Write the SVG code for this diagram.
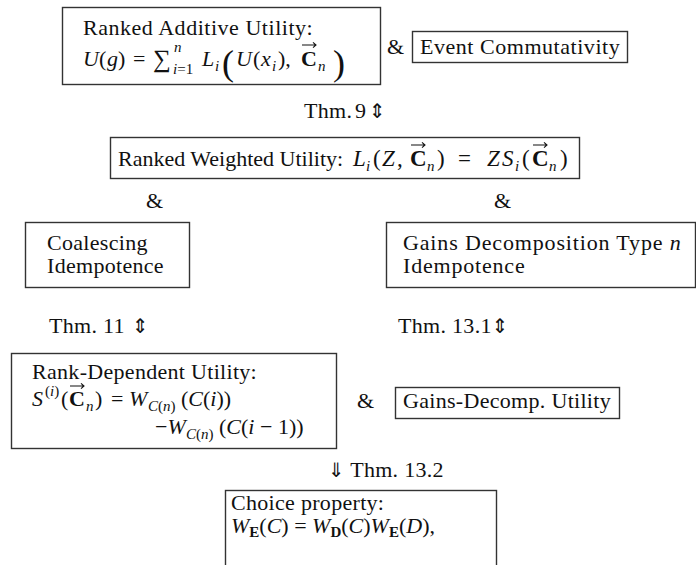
<svg xmlns="http://www.w3.org/2000/svg" width="696" height="565" viewBox="0 0 696 565">
<style>
text{font-family:"Liberation Serif","Times New Roman",serif;font-size:22px;fill:#111;letter-spacing:0.3px;}
.m{letter-spacing:0;}
.mm{font-size:23px;letter-spacing:0;}
.i{font-style:italic;}
.b{font-weight:bold;}
.s{font-size:15px;letter-spacing:0;}
.ar{font-family:"DejaVu Sans",sans-serif;font-size:20px;letter-spacing:0;}
.big{font-size:36px;letter-spacing:0;}
.box{fill:none;stroke:#333;stroke-width:1.4;}
.vec{fill:none;stroke:#111;stroke-width:1.1;}
</style>
<defs>
<path id="vec" class="vec" d="M0 0H14M11 -2.6L14 0L11 2.6"/>
</defs>
<rect width="696" height="565" fill="#fff"/>

<g id="n-rau">
<rect class="box" x="62.5" y="7.5" width="318" height="77"/>
<text x="83" y="35" textLength="230">Ranked Additive Utility:</text>
<text class="m i" x="83" y="66">U</text>
<text class="m" x="99" y="66">(</text>
<text class="m i" x="107" y="66">g</text>
<text class="m" x="118" y="66">)</text>
<text class="m" x="133" y="66">=</text>
<text class="m" x="153" y="67" style="font-size:25px">∑</text>
<text class="s i" x="174" y="52">n</text>
<text class="s" x="173" y="74"><tspan class="i">i</tspan>=1</text>
<text class="m i" x="202" y="66">L</text>
<text class="s i" x="215" y="71">i</text>
<text class="big" x="222" y="75">(</text>
<text class="m i" x="236" y="66">U</text>
<text class="m" x="253" y="66">(</text>
<text class="m i" x="261" y="66">x</text>
<text class="s i" x="272" y="71">i</text>
<text class="m" x="278" y="66">),</text>
<text class="m b" x="301" y="66">C</text>
<use href="#vec" x="302" y="45"/>
<text class="s i" x="318" y="71">n</text>
<text class="big" x="333" y="75">)</text>
</g>

<text id="amp1" x="387" y="54">&amp;</text>

<g id="n-ec">
<rect class="box" x="412.5" y="31.5" width="215" height="31"/>
<text x="420" y="54" textLength="200">Event Commutativity</text>
</g>

<g id="n-rwu">
<rect class="box" x="110.5" y="137.5" width="469" height="41"/>
<text x="118" y="166" class="m">Ranked Weighted Utility:</text>
<text class="mm i" x="353" y="166">L</text>
<text class="s i" x="366" y="171">i</text>
<text class="mm" x="373" y="166">(</text>
<text class="mm i" x="382" y="166">Z</text>
<text class="mm" x="397" y="166">,</text>
<text class="mm b" x="410" y="166">C</text>
<use href="#vec" x="411" y="145"/>
<text class="s i" x="427" y="171">n</text>
<text class="mm" x="437" y="166">)</text>
<text class="mm" x="458" y="166">=</text>
<text class="mm i" x="487" y="166">Z</text>
<text class="mm i" x="502" y="166">S</text>
<text class="s i" x="515" y="171">i</text>
<text class="mm" x="522" y="166">(</text>
<text class="mm b" x="532" y="166">C</text>
<use href="#vec" x="533" y="145"/>
<text class="s i" x="549" y="171">n</text>
<text class="mm" x="560" y="166">)</text>
</g>

<text id="amp2" x="146" y="208">&amp;</text>
<text id="amp3" x="494" y="208">&amp;</text>

<g id="n-ci">
<rect class="box" x="25.5" y="222.5" width="164" height="65"/>
<text x="47" y="250">Coalescing</text>
<text x="47" y="273">Idempotence</text>
</g>

<g id="n-gd">
<rect class="box" x="386.5" y="222.5" width="309" height="65"/>
<text x="403" y="250" textLength="278">Gains Decomposition Type <tspan class="i">n</tspan></text>
<text x="403" y="273" textLength="122">Idempotence</text>
</g>

<g id="n-rdu">
<rect class="box" x="11.5" y="353.5" width="325" height="95"/>
<text x="32" y="379">Rank-Dependent Utility:</text>
<text class="m i" x="32" y="406">S</text>
<text class="s" x="45" y="396">(<tspan class="i">i</tspan>)</text>
<text class="m" x="61" y="406">(</text>
<text class="m b" x="69" y="406">C</text>
<use href="#vec" x="70" y="386"/>
<text class="s i" x="86" y="411">n</text>
<text class="m" x="95" y="406">)</text>
<text class="m" x="111" y="406">=</text>
<text class="m i" x="129" y="406">W</text>
<text class="s" x="148" y="411"><tspan class="i">C</tspan>(<tspan class="i">n</tspan>)</text>
<text class="m" x="181" y="406">(<tspan class="i">C</tspan>(<tspan class="i">i</tspan>))</text>
<text class="m" x="155" y="434">−<tspan class="i">W</tspan></text>
<text class="s" x="186" y="439"><tspan class="i">C</tspan>(<tspan class="i">n</tspan>)</text>
<text class="m" x="219" y="434">(<tspan class="i">C</tspan>(<tspan class="i">i</tspan> − 1))</text>
</g>

<text id="amp4" x="357" y="408">&amp;</text>

<g id="n-gdu">
<rect class="box" x="395.5" y="387.5" width="224" height="31"/>
<text x="403" y="408" textLength="208">Gains-Decomp. Utility</text>
</g>

<g id="n-cp">
<rect class="box" x="225.5" y="490.5" width="271" height="80"/>
<text x="231" y="510">Choice property:</text>
<text class="m" y="533"><tspan x="231" class="i">W</tspan><tspan class="s b" dy="4">E</tspan><tspan dy="-4">(</tspan><tspan class="i">C</tspan>) = <tspan class="i">W</tspan><tspan class="s b" dy="4">D</tspan><tspan dy="-4">(</tspan><tspan class="i">C</tspan>)<tspan class="i">W</tspan><tspan class="s b" dy="4">E</tspan><tspan dy="-4">(</tspan><tspan class="i">D</tspan>),</text>
</g>

<g id="connectors">
<text x="304" y="118">Thm.</text><text x="355" y="118">9</text><text class="ar" x="369" y="118">⇕</text>
<text x="49" y="333">Thm. 11</text><text class="ar" x="132" y="333">⇕</text>
<text x="398" y="333">Thm. 13.1<tspan class="ar">⇕</tspan></text>
<text x="328" y="477"><tspan class="ar">⇓</tspan> Thm. 13.2</text>
</g>
</svg>
